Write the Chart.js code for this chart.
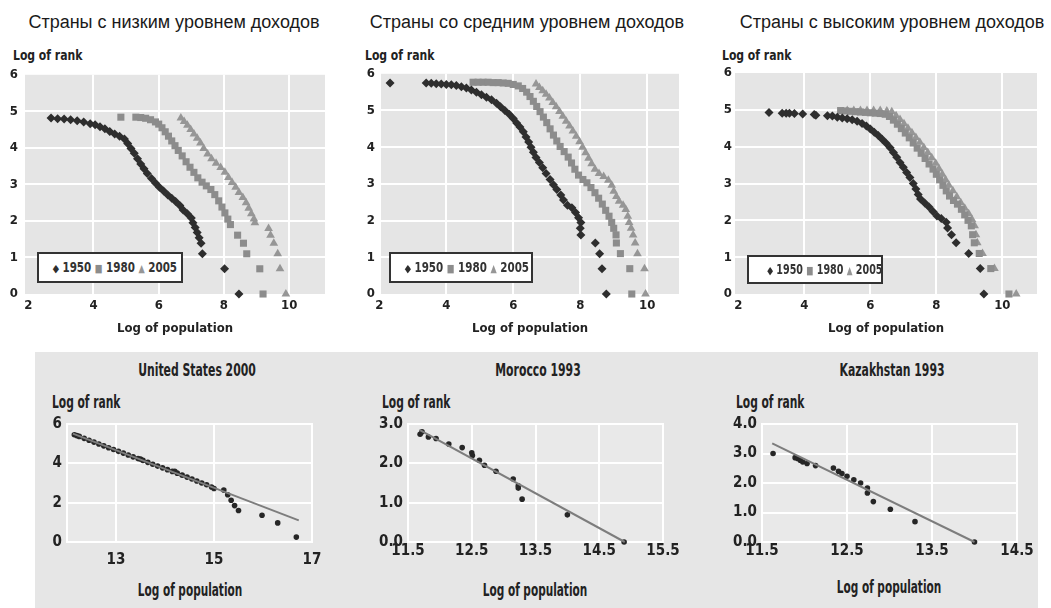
<!DOCTYPE html>
<html>
<head>
<meta charset="utf-8">
<script src="https://cdn.jsdelivr.net/npm/chart.js@4.4.2/dist/chart.umd.min.js"></script>
<style>
  body { margin: 0; width: 1051px; height: 608px; position: relative; background: #fff; overflow: hidden;
         font-family: 'Liberation Sans Narrow', 'DejaVu Sans Condensed', sans-serif; }
  canvas { position: absolute; }
  .ttl { position: absolute; top: 11px; line-height: 22px; font-family: 'Liberation Sans', Arial, sans-serif;
         font-size: 18px; color: #1a1a1a; white-space: nowrap; transform: translateX(-50%); }
  .lab { position: absolute; font-weight: bold; color: #222; white-space: nowrap; }
  .top-lab { top: 47px; font-size: 14px; line-height: 16px; transform-origin: left center; transform: scaleX(0.86); }
  .bot-lab { top: 392px; font-size: 18px; line-height: 20px; transform-origin: left center; transform: scaleX(0.66); }
  .bot-ttl { top: 360px; font-size: 18px; line-height: 20px; transform: translateX(-50%) scaleX(0.67); }
  .bot-x { top: 580px; font-size: 18px; line-height: 20px; transform: translateX(-50%) scaleX(0.65); }
  .legend { position: absolute; top: 252px; height: 31px; background: #fff; border: 2px solid #333; box-sizing: border-box;
            font-weight: bold; font-size: 14px; color: #333; line-height: 27px; text-align: center; white-space: nowrap; }
  .legend .in { display: inline-block; transform: scaleX(0.82); }
  .legend .s { font-size: 11px; }
  #botbg { position: absolute; left: 35px; top: 352px; width: 1003px; height: 256px; background: #e6e6e6; }
</style>
</head>
<body>
<div id="botbg"></div>

<div class="ttl" style="left:174px">Страны с низким уровнем доходов</div>
<div class="ttl" style="left:527px">Страны со средним уровнем доходов</div>
<div class="ttl" style="left:892px">Страны с высоким уровнем доходов</div>

<div class="lab top-lab" style="left:13px">Log of rank</div>
<div class="lab top-lab" style="left:365px">Log of rank</div>
<div class="lab top-lab" style="left:722px">Log of rank</div>

<canvas id="low" width="345" height="280" style="left:0px;top:60px"></canvas>
<canvas id="mid" width="345" height="280" style="left:350px;top:60px"></canvas>
<canvas id="high" width="351" height="280" style="left:700px;top:60px"></canvas>

<div class="legend" style="left:37px;width:146px"><span class="in"><span class="s" style="color:#2e2e2e">&#9670;</span> 1950 <span class="s" style="color:#8c8c8c">&#9632;</span> 1980 <span class="s" style="color:#969696">&#9650;</span> 2005</span></div>
<div class="legend" style="left:389px;width:144px"><span class="in"><span class="s" style="color:#2e2e2e">&#9670;</span> 1950 <span class="s" style="color:#8c8c8c">&#9632;</span> 1980 <span class="s" style="color:#969696">&#9650;</span> 2005</span></div>
<div class="legend" style="left:747px;width:136px;top:255px;height:29px;line-height:25px"><span class="in" style="transform:scaleX(0.76)"><span class="s" style="color:#2e2e2e">&#9670;</span> 1950 <span class="s" style="color:#8c8c8c">&#9632;</span> 1980 <span class="s" style="color:#969696">&#9650;</span> 2005</span></div>

<div class="lab bot-ttl" style="left:197px">United States 2000</div>
<div class="lab bot-ttl" style="left:538px">Morocco 1993</div>
<div class="lab bot-ttl" style="left:892px">Kazakhstan 1993</div>

<div class="lab bot-lab" style="left:52px">Log of rank</div>
<div class="lab bot-lab" style="left:382px">Log of rank</div>
<div class="lab bot-lab" style="left:736px">Log of rank</div>

<div class="lab bot-x" style="left:190px">Log of population</div>
<div class="lab bot-x" style="left:535px">Log of population</div>
<div class="lab bot-x" style="left:889px;top:577px">Log of population</div>

<canvas id="us" width="300" height="198" style="left:37px;top:410px"></canvas>
<canvas id="mor" width="330" height="198" style="left:360px;top:410px"></canvas>
<canvas id="kaz" width="323" height="198" style="left:715px;top:410px"></canvas>

<script>
// Годы (серии) и оси верхних панелей
const years = ['1950', '1980', '2005'];
const topXTicks = [2, 4, 6, 8, 10];
const topYTicks = [0, 1, 2, 3, 4, 5, 6];

// Страны с низким уровнем доходов: [log population, log rank]
const low1950 = [[2.7,4.82],[2.9,4.80],[3.1,4.79],[3.3,4.77],[3.5,4.74],[3.7,4.71],[3.9,4.66],[4.05,4.63],[4.2,4.58],[4.35,4.52],
  [4.5,4.45],[4.65,4.38],[4.8,4.32],[4.95,4.24],[5.05,4.12],[5.15,3.98],[5.25,3.85],[5.35,3.70],[5.45,3.56],[5.55,3.43],
  [5.65,3.30],[5.78,3.16],[5.9,3.04],[6.02,2.92],[6.15,2.82],[6.28,2.71],[6.4,2.62],[6.52,2.53],[6.65,2.42],[6.75,2.30],
  [6.88,2.20],[7.0,2.08],[7.05,1.95],[7.12,1.82],[7.18,1.68],[7.24,1.54],[7.3,1.39],[7.34,1.10],[8.02,0.69],[8.46,0.0]];
const low1980 = [[4.84,4.84],[5.3,4.84],[5.45,4.83],[5.6,4.81],[5.75,4.77],[5.9,4.71],[6.0,4.65],[6.1,4.55],[6.2,4.44],[6.3,4.32],
  [6.4,4.19],[6.5,4.06],[6.6,3.93],[6.72,3.78],[6.84,3.62],[6.96,3.47],[7.08,3.33],[7.2,3.18],[7.33,3.06],[7.46,2.96],
  [7.6,2.86],[7.72,2.72],[7.84,2.55],[7.94,2.38],[8.03,2.22],[8.12,2.05],[8.2,1.90],[8.42,1.61],[8.6,1.39],[8.7,1.10],
  [9.1,0.69],[9.2,0.0]];
const low2005 = [[6.68,4.82],[6.78,4.72],[6.88,4.62],[6.98,4.50],[7.08,4.38],[7.18,4.26],[7.28,4.13],[7.38,3.98],[7.5,3.83],[7.62,3.70],
  [7.76,3.58],[7.9,3.46],[8.03,3.33],[8.14,3.19],[8.25,3.05],[8.36,2.92],[8.46,2.78],[8.58,2.64],[8.68,2.50],[8.76,2.35],
  [8.84,2.20],[8.92,2.05],[8.95,1.95],[9.37,1.79],[9.43,1.61],[9.53,1.39],[9.65,1.10],[9.72,0.69],[9.9,0.0]];

// Страны со средним уровнем доходов
const mid1950 = [[2.32,5.75],[3.4,5.75],[3.55,5.74],[3.7,5.73],[3.85,5.72],[4.0,5.71],[4.15,5.70],[4.3,5.68],[4.45,5.65],[4.6,5.61],
  [4.75,5.56],[4.9,5.50],[5.05,5.43],[5.2,5.36],[5.35,5.29],[5.5,5.20],[5.62,5.10],[5.75,5.00],[5.88,4.90],[6.0,4.78],
  [6.1,4.66],[6.2,4.55],[6.3,4.42],[6.38,4.28],[6.46,4.14],[6.53,4.00],[6.6,3.86],[6.68,3.72],[6.78,3.58],[6.88,3.44],
  [6.98,3.28],[7.1,3.12],[7.2,2.98],[7.3,2.85],[7.42,2.70],[7.5,2.56],[7.62,2.42],[7.75,2.35],[7.86,2.22],[7.95,2.08],
  [8.02,1.95],[8.0,1.79],[8.02,1.61],[8.45,1.39],[8.58,1.10],[8.65,0.69],[8.78,0.0]];
const mid1980 = [[4.8,5.77],[4.95,5.77],[5.1,5.77],[5.25,5.77],[5.4,5.76],[5.55,5.76],[5.7,5.75],[5.85,5.74],[6.0,5.71],[6.15,5.67],
  [6.28,5.60],[6.4,5.50],[6.5,5.38],[6.6,5.25],[6.7,5.11],[6.8,4.97],[6.9,4.82],[7.0,4.67],[7.1,4.50],[7.2,4.33],
  [7.3,4.17],[7.4,4.02],[7.52,3.88],[7.64,3.73],[7.74,3.57],[7.84,3.40],[7.95,3.24],[8.08,3.12],[8.2,3.03],[8.32,2.90],
  [8.44,2.76],[8.55,2.61],[8.66,2.45],[8.76,2.28],[8.86,2.12],[8.94,1.95],[9.0,1.79],[9.07,1.61],[9.08,1.39],[9.2,1.10],
  [9.48,0.69],[9.54,0.0]];
const mid2005 = [[6.68,5.72],[6.78,5.63],[6.88,5.54],[6.98,5.44],[7.08,5.34],[7.18,5.22],[7.28,5.10],[7.38,4.97],[7.48,4.84],[7.58,4.71],
  [7.68,4.58],[7.78,4.44],[7.88,4.30],[7.98,4.15],[8.07,4.00],[8.16,3.85],[8.25,3.70],[8.34,3.55],[8.44,3.40],[8.56,3.28],
  [8.7,3.20],[8.84,3.10],[8.94,2.96],[9.0,2.80],[9.08,2.66],[9.16,2.53],[9.28,2.42],[9.36,2.30],[9.42,2.12],[9.46,1.95],
  [9.52,1.79],[9.58,1.61],[9.64,1.39],[9.71,1.10],[9.92,0.69],[9.95,0.0]];

// Страны с высоким уровнем доходов
const high1950 = [[2.93,4.93],[3.33,4.91],[3.45,4.91],[3.55,4.91],[3.7,4.90],[3.95,4.89],[4.3,4.87],[4.35,4.85],[4.7,4.84],[4.85,4.83],
  [5.0,4.80],[5.15,4.78],[5.3,4.76],[5.45,4.73],[5.6,4.69],[5.75,4.63],[5.88,4.56],[6.0,4.48],[6.12,4.39],[6.24,4.30],
  [6.36,4.20],[6.48,4.09],[6.6,3.97],[6.7,3.84],[6.8,3.71],[6.9,3.57],[7.0,3.44],[7.1,3.30],[7.2,3.16],[7.3,3.00],
  [7.38,2.85],[7.45,2.70],[7.52,2.58],[7.65,2.47],[7.78,2.36],[7.9,2.24],[8.02,2.12],[8.15,2.05],[8.3,1.95],[8.34,1.79],
  [8.46,1.61],[8.6,1.39],[8.98,1.10],[9.33,0.69],[9.44,0.0]];
const high1980 = [[5.1,4.98],[5.25,4.97],[5.4,4.96],[5.55,4.95],[5.7,4.94],[5.85,4.93],[6.0,4.92],[6.15,4.91],[6.3,4.90],[6.45,4.88],
  [6.58,4.82],[6.7,4.72],[6.82,4.61],[6.94,4.49],[7.06,4.37],[7.18,4.24],[7.3,4.10],[7.42,3.96],[7.54,3.82],[7.66,3.68],
  [7.78,3.53],[7.9,3.39],[8.0,3.25],[8.1,3.10],[8.2,2.95],[8.3,2.80],[8.4,2.66],[8.52,2.54],[8.64,2.44],[8.76,2.30],
  [8.86,2.15],[8.96,2.00],[9.06,1.85],[9.1,1.61],[9.15,1.39],[9.3,1.10],[9.65,0.69],[10.2,0.0]];
const high2005 = [[5.3,4.98],[5.5,4.98],[5.7,4.98],[5.9,4.98],[6.1,4.98],[6.3,4.98],[6.5,4.97],[6.65,4.95],[6.78,4.84],[6.9,4.74],
  [7.02,4.62],[7.14,4.50],[7.26,4.38],[7.38,4.25],[7.5,4.12],[7.62,3.98],[7.74,3.84],[7.86,3.70],[7.98,3.55],[8.08,3.40],
  [8.18,3.25],[8.28,3.10],[8.38,2.95],[8.5,2.80],[8.62,2.64],[8.74,2.48],[8.86,2.33],[8.98,2.18],[9.08,2.02],[9.16,1.85],
  [9.2,1.61],[9.24,1.39],[9.4,1.10],[9.76,0.69],[10.42,0.0]];

// Нижние панели: города и линия регрессии
const usCities = [[12.15,5.45],[12.2,5.41],[12.25,5.37],[12.35,5.27],[12.45,5.17],[12.55,5.08],[12.65,4.98],[12.75,4.89],
  [12.85,4.79],[12.95,4.70],[13.05,4.61],[13.15,4.52],[13.25,4.42],[13.35,4.33],[13.45,4.24],[13.5,4.22],[13.55,4.15],
  [13.65,4.05],[13.75,3.95],[13.85,3.86],[13.95,3.77],[14.05,3.68],[14.15,3.59],[14.2,3.60],[14.25,3.50],[14.35,3.40],
  [14.45,3.30],[14.55,3.20],[14.65,3.10],[14.75,3.00],[14.85,2.91],[14.95,2.80],[15.0,2.72],[15.2,2.64],[15.28,2.40],
  [15.35,2.12],[15.42,1.85],[15.5,1.60],[15.98,1.36],[16.3,0.97],[16.68,0.25]];
const usFit = [[12.12,5.51],[16.73,1.10]];
const usXRange = [12, 17];
const usXTicks = [13, 15, 17];
const usYTicks = [0, 2, 4, 6];

const moroccoCities = [[11.69,2.74],[11.72,2.80],[11.82,2.67],[11.94,2.63],[12.14,2.49],[12.35,2.40],[12.5,2.27],[12.51,2.20],
  [12.62,2.08],[12.70,1.95],[12.88,1.80],[13.15,1.60],[13.23,1.43],[13.23,1.37],[13.29,1.09],[14.0,0.69],[14.89,0.0]];
const moroccoFit = [[11.68,2.85],[14.9,0.0]];
const moroccoXRange = [11.5, 15.5];
const moroccoXTicks = [11.5, 12.5, 13.5, 14.5, 15.5];
const moroccoYTicks = [0, 1, 2, 3];

const kazakhCities = [[11.63,3.0],[11.89,2.86],[11.92,2.83],[11.95,2.77],[11.98,2.71],[12.03,2.66],[12.13,2.59],[12.34,2.51],
  [12.40,2.40],[12.44,2.32],[12.5,2.23],[12.58,2.11],[12.66,2.0],[12.74,1.83],[12.74,1.66],[12.81,1.37],[13.01,1.11],
  [13.3,0.69],[14.0,0.0]];
const kazakhFit = [[11.62,3.34],[14.0,0.0]];
const kazakhXRange = [11.5, 14.5];
const kazakhXTicks = [11.5, 12.5, 13.5, 14.5];
const kazakhYTicks = [0, 1, 2, 3, 4];

const FONT = "'Liberation Sans Narrow', 'DejaVu Sans Condensed', sans-serif";

// Фон области построения и белая рамка
const plotBg = {
  id: 'plotBg',
  beforeDraw(chart, args, opts) {
    const { ctx, chartArea: a } = chart;
    ctx.save();
    ctx.fillStyle = opts.color;
    ctx.fillRect(a.left, a.top, a.width, a.height);
    ctx.restore();
  },
  beforeDatasetsDraw(chart, args, opts) {
    if (!opts.frame) return;
    const { ctx, chartArea: a } = chart;
    ctx.save();
    ctx.strokeStyle = '#fff';
    ctx.lineWidth = 2;
    ctx.strokeRect(a.left, a.top, a.width, a.height);
    ctx.restore();
  }
};

const toPts = arr => arr.map(p => ({ x: p[0], y: p[1] }));

function topChart(id, series, xMin, xMax, yWidth, padRight, yPad) {
  const styles = [
    { color: '#2e2e2e', style: 'rectRot', r: 4.5 },
    { color: '#8c8c8c', style: 'rect', r: 5 },
    { color: '#969696', style: 'triangle', r: 5 }
  ];
  new Chart(document.getElementById(id), {
    type: 'scatter',
    data: {
      datasets: series.map((s, i) => ({
        label: years[i],
        data: toPts(s),
        pointStyle: styles[i].style,
        pointRadius: styles[i].r,
        backgroundColor: styles[i].color,
        borderColor: styles[i].color,
        borderWidth: 0,
        clip: false
      }))
    },
    options: {
      responsive: false, animation: false, events: [],
      layout: { padding: { top: 13, right: padRight, bottom: 0, left: 0 } },
      plugins: { legend: { display: false }, tooltip: { enabled: false }, plotBg: { color: '#e5e5e5' } },
      scales: {
        x: {
          type: 'linear', min: xMin, max: xMax,
          afterBuildTicks: s => { s.ticks = topXTicks.map(v => ({ value: v })); },
          afterFit: s => { s.height = 46; },
          grid: { color: c => (c.tick && c.tick.value === 2) ? 'transparent' : '#fff', lineWidth: 2, drawTicks: false },
          border: { display: false },
          ticks: { autoSkip: false, maxRotation: 0, padding: 4, color: '#222', font: { family: FONT, size: 13, weight: 'bold' } },
          title: { display: true, text: 'Log of population', color: '#222', padding: { top: 0, bottom: 4 },
                   font: { family: FONT, size: 13, weight: 'bold' } }
        },
        y: {
          min: 0, max: 6,
          afterBuildTicks: s => { s.ticks = topYTicks.map(v => ({ value: v })); },
          afterFit: s => { s.width = yWidth; },
          grid: { color: c => (c.tick && (c.tick.value === 0 || c.tick.value === 6)) ? 'transparent' : '#fff', lineWidth: 2, drawTicks: false },
          border: { display: false },
          ticks: { padding: yPad, color: '#222', font: { family: FONT, size: 13, weight: 'bold' } }
        }
      }
    },
    plugins: [plotBg]
  });
}

function bottomChart(id, cities, fit, xRange, xTicks, yTicks, yWidth, padRight, xPad, decimals) {
  new Chart(document.getElementById(id), {
    type: 'scatter',
    data: {
      datasets: [
        { data: toPts(fit), showLine: true, borderColor: '#7d7d7d', borderWidth: 2, pointRadius: 0, clip: false },
        { data: toPts(cities), pointRadius: 2.8, backgroundColor: '#262626', borderWidth: 0, clip: false }
      ]
    },
    options: {
      responsive: false, animation: false, events: [],
      layout: { padding: { top: 13, right: padRight, bottom: 0, left: 0 } },
      plugins: { legend: { display: false }, tooltip: { enabled: false }, plotBg: { color: '#e9e9e9', frame: true } },
      scales: {
        x: {
          type: 'linear', min: xRange[0], max: xRange[1],
          afterBuildTicks: s => { s.ticks = xTicks.map(v => ({ value: v })); },
          afterFit: s => { s.height = 66; },
          grid: { color: '#fff', lineWidth: 2, drawTicks: false },
          border: { display: false },
          ticks: { autoSkip: false, maxRotation: 0, padding: xPad, color: '#222',
                   callback: v => decimals ? v.toFixed(1) : String(v),
                   font: { family: FONT, size: 15, weight: 'bold' } }
        },
        y: {
          min: yTicks[0], max: yTicks[yTicks.length - 1],
          afterBuildTicks: s => { s.ticks = yTicks.map(v => ({ value: v })); },
          afterFit: s => { s.width = yWidth; },
          grid: { color: '#fff', lineWidth: 2, drawTicks: false },
          border: { display: false },
          ticks: { padding: 5, color: '#222',
                   callback: v => decimals ? v.toFixed(1) : String(v),
                   font: { family: FONT, size: 15, weight: 'bold' } }
        }
      }
    },
    plugins: [plotBg]
  });
}

topChart('low', [low1950, low1980, low2005], 1.9, 11.1, 25, 20, 7);
topChart('mid', [mid1950, mid1980, mid2005], 2.05, 10.95, 31, 16, 6);
topChart('high', [high1950, high1980, high2005], 1.9, 11.05, 35, 14, 3);

bottomChart('us', usCities, usFit, usXRange, usXTicks, usYTicks, 30, 25, 9, false);
bottomChart('mor', moroccoCities, moroccoFit, moroccoXRange, moroccoXTicks, moroccoYTicks, 48, 27, 0, true);
bottomChart('kaz', kazakhCities, kazakhFit, kazakhXRange, kazakhXTicks, kazakhYTicks, 47, 21, 0, true);
</script>
</body>
</html>
